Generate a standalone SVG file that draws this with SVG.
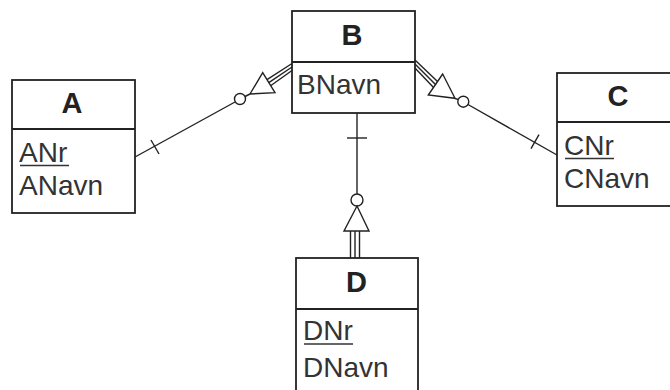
<svg xmlns="http://www.w3.org/2000/svg" width="670" height="390" viewBox="0 0 670 390">
<style>
.box{fill:none;stroke:#222;stroke-width:1.8}
.ttl{font-family:"Liberation Sans",Arial,sans-serif;font-weight:bold;font-size:29px;fill:#222;text-anchor:middle}
.att{font-family:"Liberation Sans",Arial,sans-serif;font-size:28px;fill:#333}
.ul{stroke:#333;stroke-width:1.6}
.ln{fill:none;stroke:#222;stroke-width:1.4}
.sym{fill:#fff;stroke:#222;stroke-width:1.4}
</style>
<rect width="670" height="390" fill="#fff"/>
<g id="connectors">
  <!-- A - B -->
  <line class="ln" x1="135" y1="157" x2="235" y2="102"/>
  <line class="ln" x1="151" y1="140" x2="159" y2="154"/>
  <line class="ln" x1="245" y1="96.5" x2="250" y2="94"/>
  <circle class="sym" cx="240" cy="99" r="5.5"/>
  <polygon class="sym" points="250,94 262.7,72.7 275,92.7"/>
  <line class="ln" x1="267" y1="79.7" x2="292" y2="63.5"/>
  <line class="ln" x1="268.8" y1="82.7" x2="292" y2="67"/>
  <line class="ln" x1="270.6" y1="85.7" x2="292" y2="70.5"/>
  <!-- B - C -->
  <line class="ln" x1="415" y1="60" x2="437.5" y2="81.6"/>
  <line class="ln" x1="415" y1="64" x2="435.5" y2="84.5"/>
  <line class="ln" x1="415" y1="68" x2="433.5" y2="87.4"/>
  <polygon class="sym" points="442.7,74 428.3,95 455,98.3"/>
  <line class="ln" x1="455" y1="98.3" x2="458" y2="99.5"/>
  <circle class="sym" cx="463.3" cy="101.7" r="5.5"/>
  <line class="ln" x1="468" y1="104.5" x2="557" y2="155"/>
  <line class="ln" x1="531" y1="148.7" x2="539" y2="134.7"/>
  <!-- B - D -->
  <line class="ln" x1="357" y1="113" x2="357" y2="194"/>
  <line class="ln" x1="347" y1="138" x2="367" y2="138"/>
  <circle class="sym" cx="357" cy="200" r="6"/>
  <polygon class="sym" points="357,206 344,231 369,231"/>
  <line class="ln" x1="350.5" y1="231" x2="350.5" y2="258"/>
  <line class="ln" x1="355" y1="231" x2="355" y2="258"/>
  <line class="ln" x1="359.5" y1="231" x2="359.5" y2="258"/>
</g>
<g id="A">
  <rect class="box" x="12" y="80" width="123" height="133"/>
  <line class="box" x1="12" y1="129" x2="135" y2="129"/>
  <text class="ttl" x="72" y="112.5">A</text>
  <text class="att" x="19" y="162">ANr</text>
  <line class="ul" x1="20" y1="165.5" x2="69" y2="165.5"/>
  <text class="att" x="19" y="195">ANavn</text>
</g>
<g id="B">
  <rect class="box" x="292" y="11" width="123" height="102"/>
  <line class="box" x1="292" y1="62" x2="415" y2="62"/>
  <text class="ttl" x="352" y="44.5">B</text>
  <text class="att" x="297" y="93.5">BNavn</text>
</g>
<g id="C">
  <rect class="box" x="557" y="73" width="123" height="133"/>
  <line class="box" x1="557" y1="122" x2="680" y2="122"/>
  <text class="ttl" x="618" y="105.5">C</text>
  <text class="att" x="564" y="155">CNr</text>
  <line class="ul" x1="565" y1="158.5" x2="614" y2="158.5"/>
  <text class="att" x="564" y="188">CNavn</text>
</g>
<g id="D">
  <rect class="box" x="296" y="258" width="122" height="140"/>
  <line class="box" x1="296" y1="309" x2="418" y2="309"/>
  <text class="ttl" x="356.5" y="291.5">D</text>
  <text class="att" x="303" y="340">DNr</text>
  <line class="ul" x1="304" y1="344" x2="353" y2="344"/>
  <text class="att" x="303" y="376.5">DNavn</text>
</g>
</svg>
